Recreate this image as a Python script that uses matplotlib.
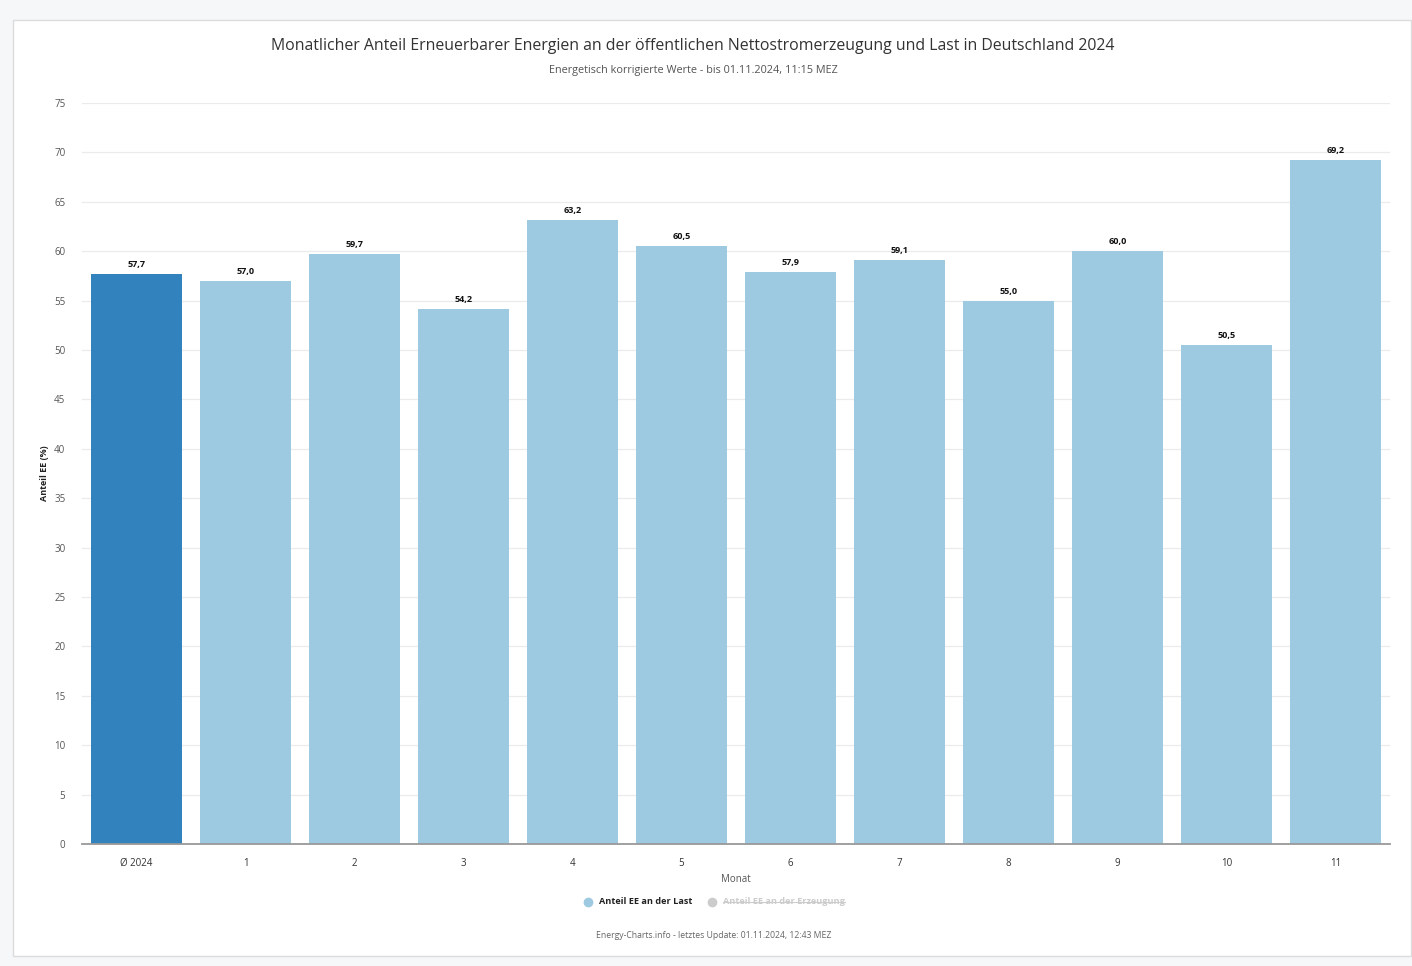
import matplotlib
matplotlib.use('Agg')
import matplotlib.pyplot as plt
from matplotlib.patches import Rectangle
from matplotlib.lines import Line2D

plt.rcParams['font.family'] = ['Open Sans', 'DejaVu Sans']

# data
months = ['Ø 2024', '1', '2', '3', '4', '5', '6', '7', '8', '9', '10', '11']
share_load = [57.7, 57.0, 59.7, 54.2, 63.2, 60.5, 57.9, 59.1, 55.0, 60.0, 50.5, 69.2]
yticks = list(range(0, 80, 5))

title = 'Monatlicher Anteil Erneuerbarer Energien an der öffentlichen Nettostromerzeugung und Last in Deutschland 2024'
subtitle = 'Energetisch korrigierte Werte - bis 01.11.2024, 11:15 MEZ'
footer = 'Energy-Charts.info - letztes Update: 01.11.2024, 12:43 MEZ'

W, H = 1412, 966
fig = plt.figure(figsize=(W / 100, H / 100), dpi=100, facecolor='#f6f7f9')

# white card behind the chart
card = Rectangle((13 / W, 1 - 956 / H), (1411 - 13) / W, (956 - 20) / H,
                 transform=fig.transFigure, facecolor='white',
                 edgecolor='#dcdcdc', linewidth=1.0, zorder=-1)
fig.patches.append(card)

ax = fig.add_axes([82 / W, 1 - 844 / H, (1390 - 82) / W, (844 - 103) / H])
ax.set_zorder(2)
ax.set_facecolor('none')

colors = ['#3182bd'] + ['#9ecae1'] * (len(months) - 1)
x = list(range(len(months)))
bars = ax.bar(x, share_load, width=0.83, color=colors, zorder=3)

for xi, v in zip(x, share_load):
    ax.text(xi, v + 0.5, f'{v:.1f}'.replace('.', ','), ha='center', va='bottom',
            fontsize=6.5, fontweight='bold', color='#111111', zorder=4)

ax.set_xlim(-0.5, len(months) - 0.5)
ax.set_ylim(0, 75)
ax.set_yticks(yticks)
ax.set_yticklabels([str(t) for t in yticks])
ax.set_xticks(x)
ax.set_xticklabels(months)
ax.tick_params(axis='y', length=0, pad=12, labelsize=7, labelcolor='#555555')
ax.tick_params(axis='x', length=0, pad=10, labelsize=7, labelcolor='#333333')
ax.grid(axis='y', color='#ebebeb', linewidth=0.9, zorder=0)
for s in ['top', 'right', 'left']:
    ax.spines[s].set_visible(False)
ax.spines['bottom'].set_color('#999999')
ax.spines['bottom'].set_linewidth(1.3)
ax.spines['bottom'].set_zorder(5)

ax.set_ylabel('Anteil EE (%)', fontsize=6.5, fontweight='bold', color='#222222', labelpad=4)
ax.set_xlabel('Monat', fontsize=7, color='#555555', labelpad=4)

fig.text(693 / W, 1 - 46 / H, title, ha='center', va='center', fontsize=11.4, color='#333333')
fig.text(693 / W, 1 - 70 / H, subtitle, ha='center', va='center', fontsize=7.8, color='#555555')
fig.text(714 / W, 1 - 935 / H, footer, ha='center', va='center', fontsize=6.2, color='#666666')

# legend (second entry hidden / struck through)
ly = 1 - 902 / H
fig.add_artist(Line2D([588 / W], [ly], marker='o', markersize=6, color='#9ecae1',
                      transform=fig.transFigure, linestyle='none'))
fig.text(599 / W, ly, 'Anteil EE an der Last', ha='left', va='center',
         fontsize=6.6, fontweight='bold', color='#222222')
fig.add_artist(Line2D([712 / W], [ly], marker='o', markersize=6, color='#cccccc',
                      transform=fig.transFigure, linestyle='none'))
t2 = fig.text(723 / W, ly, 'Anteil EE an der Erzeugung', ha='left', va='center',
              fontsize=6.6, fontweight='bold', color='#cccccc')

fig.canvas.draw()
bb = t2.get_window_extent().transformed(fig.transFigure.inverted())
ymid = (bb.y0 + bb.y1) / 2
fig.add_artist(Line2D([bb.x0, bb.x1], [ymid, ymid], color='#cccccc', linewidth=0.8,
                      transform=fig.transFigure))

fig.savefig('out.png', dpi=100, facecolor=fig.get_facecolor())
